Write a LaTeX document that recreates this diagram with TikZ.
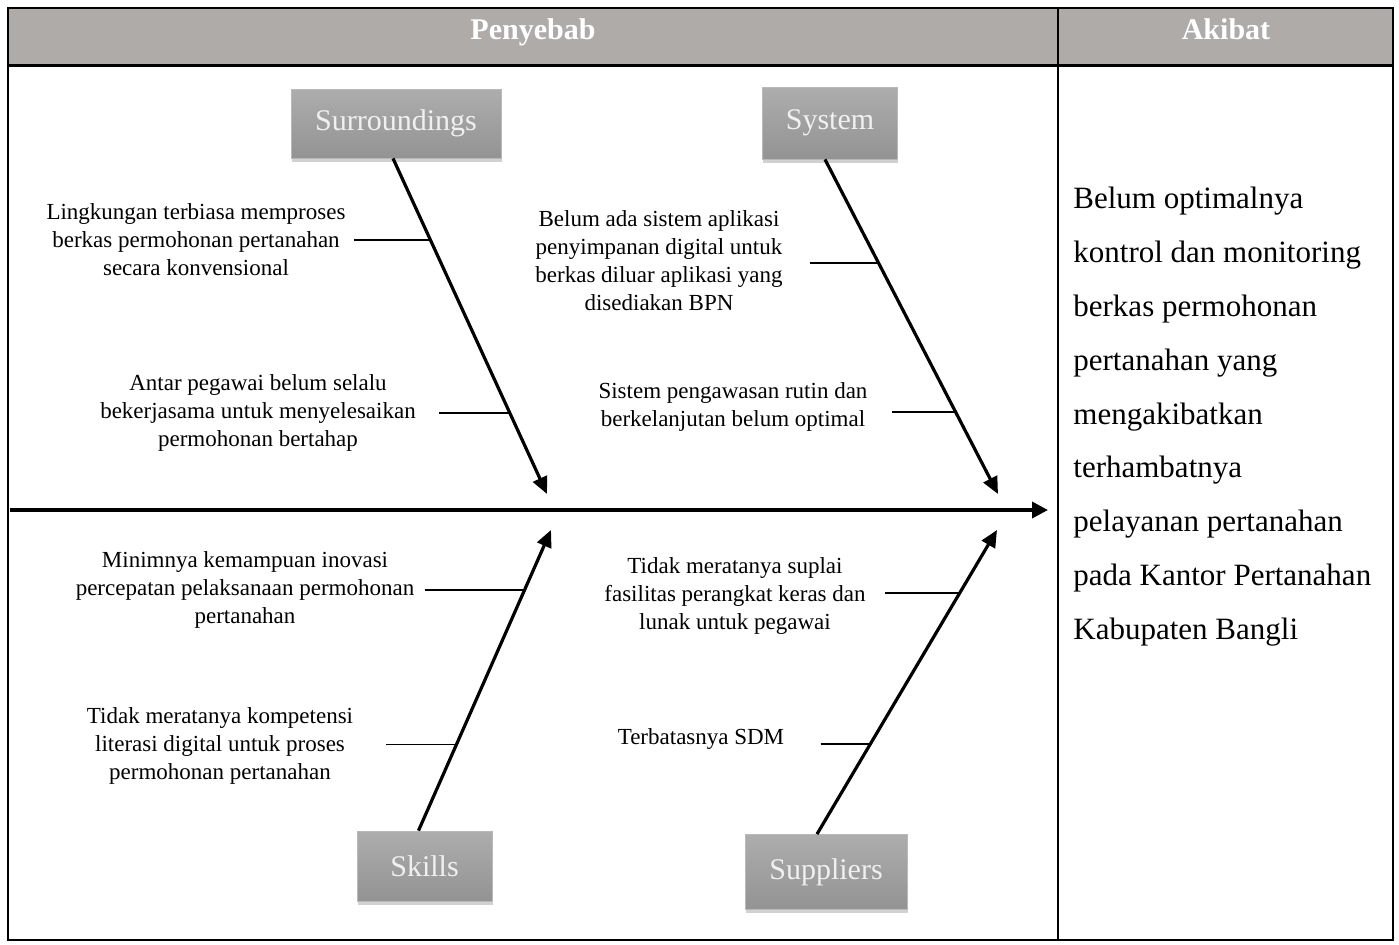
\documentclass[tikz,border=0pt]{standalone}
\usepackage{fontspec}
\setmainfont{Liberation Serif}
\usetikzlibrary{positioning,arrows.meta,shadows}
\definecolor{headgray}{HTML}{AFABA9}
\definecolor{boxtop}{HTML}{ADADAD}
\definecolor{boxbot}{HTML}{939393}

\begin{document}
\begin{tikzpicture}[x=0.5pt, y=-0.5pt,
    catBox/.style={rectangle, top color=boxtop, bottom color=boxbot, draw=boxtop!85!white, line width=0.4pt, text=white!94!black, font=\fontsize{15}{18}\selectfont, inner sep=0pt, drop shadow={shadow xshift=0.4pt, shadow yshift=-1.8pt, opacity=0.3, fill=black!60}},
    causeText/.style={align=center, font=\fontsize{11.5}{14}\selectfont, inner sep=2pt},
    headText/.style={anchor=base, font=\fontsize{15}{18}\selectfont\bfseries, text=white},
    bone/.style={line width=1.6pt, -{Triangle[length=8.5pt,width=7.5pt]}},
    spineLine/.style={line width=1.8pt, -{Triangle[length=8pt,width=8pt]}},
    twig/.style={line width=0.8pt}
]
    % table frame
    \fill[headgray] (8,8) rectangle (1393,65);
    \draw[line width=1pt] (8,8) rectangle (1393,940);
    \draw[line width=1.5pt] (8,65) -- (1393,65);
    \draw[line width=1pt] (1058,8) -- (1058,940);
    \node[headText] (penyebab) at (533,39) {Penyebab};
    \node[headText] (akibat) at (1226,39) {Akibat};

    % category boxes
    \node[catBox, minimum width=105pt, minimum height=34.5pt] (sur) at (396,123.5) {Surroundings};
    \node[catBox, minimum width=67.5pt, minimum height=36pt] (sys) at (830,123) {System};
    \node[catBox, minimum width=67.5pt, minimum height=35pt] (skl) at (424.5,866) {Skills};
    \node[catBox, minimum width=81pt, minimum height=37.5pt] (sup) at (826,872) {Suppliers};

    % spine and bones
    \coordinate (spineL) at (10,510);
    \coordinate (spineR) at (1048,510);
    \coordinate (tipSur) at (547,494);
    \coordinate (tipSys) at (998,494);
    \coordinate (tipSkl) at (551,530);
    \coordinate (tipSup) at (997,530);
    \draw[spineLine] (spineL) -- (spineR);
    \draw[bone] ([xshift=-1.5pt]sur.south) -- (tipSur) coordinate[pos=0.244] (b1) coordinate[pos=0.759] (b2);
    \draw[bone] ([xshift=-2.5pt]sys.south) -- (tipSys) coordinate[pos=0.31] (b3) coordinate[pos=0.755] (b4);
    \draw[bone] ([xshift=-3pt]skl.north) -- (tipSkl) coordinate[pos=0.80] (b5) coordinate[pos=0.286] (b6);
    \draw[bone] ([xshift=-4.5pt]sup.north) -- (tipSup) coordinate[pos=0.793] (b7) coordinate[pos=0.297] (b8);

    % causes
    \node[causeText] (t1) at (196,240) {Lingkungan terbiasa memproses\\ berkas permohonan pertanahan\\ secara konvensional};
    \node[causeText] (t2) at (258,413) {Antar pegawai belum selalu\\ bekerjasama untuk menyelesaikan\\ permohonan bertahap};
    \node[causeText] (t3) at (659,261) {Belum ada sistem aplikasi\\ penyimpanan digital untuk\\ berkas diluar aplikasi yang\\ disediakan BPN};
    \node[causeText] (t4) at (733,407) {Sistem pengawasan rutin dan\\ berkelanjutan belum optimal};
    \node[causeText] (t5) at (245,590) {Minimnya kemampuan inovasi\\ percepatan pelaksanaan permohonan\\ pertanahan};
    \node[causeText] (t6) at (220,746) {Tidak meratanya kompetensi\\ literasi digital untuk proses\\ permohonan pertanahan};
    \node[causeText] (t7) at (735,596) {Tidak meratanya suplai\\ fasilitas perangkat keras dan\\ lunak untuk pegawai};
    \node[causeText] (t8) at (701,739) {Terbatasnya SDM};

    \draw[twig, shorten <=2pt] (t1.east |- b1) -- (b1);
    \draw[twig, shorten <=9.5pt] (t2.east |- b2) -- (b2);
    \draw[twig, shorten <=11.5pt] (t3.east |- b3) -- (b3);
    \draw[twig, shorten <=10pt] (t4.east |- b4) -- (b4);
    \draw[twig, shorten <=3pt] (t5.east |- b5) -- (b5);
    \draw[twig, shorten <=14.5pt] (t6.east |- b6) -- (b6);
    \draw[twig, shorten <=7.5pt] (t7.east |- b7) -- (b7);
    \draw[twig, shorten <=16pt] (t8.east |- b8) -- (b8);

    % effect
    \node[anchor=north west, align=left, inner sep=0pt, font=\fontsize{15.5}{26.9}\selectfont] (effect) at (1073,187) {Belum optimalnya\\ kontrol dan monitoring\\ berkas permohonan\\ pertanahan yang\\ mengakibatkan\\ terhambatnya\\ pelayanan pertanahan\\ pada Kantor Pertanahan\\ Kabupaten Bangli};

    \useasboundingbox (0,0) rectangle (1399,944);
\end{tikzpicture}
\end{document}
